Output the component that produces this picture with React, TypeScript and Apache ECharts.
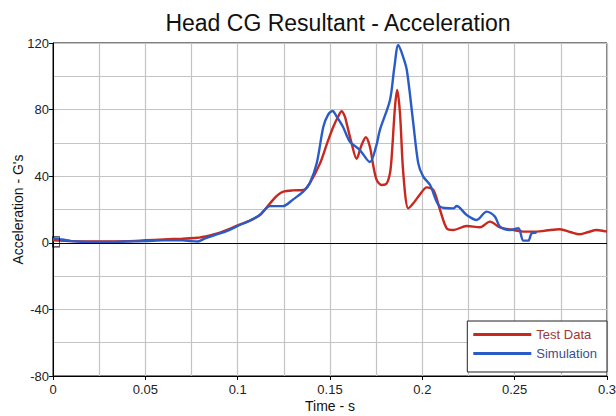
import React, { useEffect, useRef } from "react";
import * as echarts from "echarts";

const titleText = "Head CG Resultant - Acceleration";
const xAxisName = "Time - s";
const yAxisName = "Acceleration - G's";
const seriesNames = ["Test Data", "Simulation"];

// Test Data (red): time (s), acceleration (G)
const testTime = [
  0, 0.01, 0.02, 0.03, 0.04, 0.05, 0.06, 0.07, 0.078, 0.085, 0.09, 0.095, 0.1, 0.106, 0.112,
  0.1175, 0.1215, 0.1247, 0.13, 0.1355, 0.139, 0.1446, 0.1485, 0.1518, 0.1545, 0.1563, 0.158,
  0.159, 0.1617, 0.1644, 0.1671, 0.1694, 0.1716, 0.1735, 0.1753, 0.178, 0.1807, 0.1825, 0.1834,
  0.1852, 0.1864, 0.1879, 0.1897, 0.1924, 0.1951, 0.199, 0.2024, 0.206, 0.2096, 0.2132, 0.2168,
  0.224, 0.2312, 0.2366, 0.242, 0.2493, 0.2547, 0.2619, 0.268, 0.2745, 0.28, 0.2853, 0.29,
  0.2944, 0.3,
];
const testValues = [
  1.5, 1.0, 0.8, 0.8, 1.0, 1.5, 2.0, 2.5, 3.0, 4.5, 6.0, 8.0, 10.5, 13, 16.7,
  23.7, 28.5, 30.7, 31.5, 31.7, 35.7, 47.7, 60, 69.7, 76, 79, 76,
  71.8, 59.8, 50.5, 58.7, 63.4, 57.7, 46, 37.7, 34.7, 35.7, 42, 51.7,
  81.7, 91.8, 77.8, 41.7, 20.7, 23.7, 29.5, 33.3, 31.7, 19.7, 8.7, 7.7,
  10.1, 9.3, 12.7, 9.3, 7.7, 6.7, 6.7, 7.5, 8.1, 6.5, 5.1, 6.5,
  7.7, 6.7,
];

// Simulation (blue): time (s), acceleration (G)
const simTime = [
  0, 0.005, 0.01, 0.02, 0.03, 0.04, 0.05, 0.06, 0.07, 0.075, 0.0785, 0.082, 0.09, 0.095, 0.1012,
  0.106, 0.112, 0.1175, 0.1245, 0.13, 0.1355, 0.139, 0.1428, 0.1464, 0.149, 0.1514, 0.1535,
  0.157, 0.1608, 0.1662, 0.1716, 0.175, 0.177, 0.1825, 0.1848, 0.187, 0.1895, 0.1916, 0.1951,
  0.1978, 0.2005, 0.2042, 0.2096, 0.2168, 0.2186, 0.224, 0.2294, 0.2348, 0.2393, 0.242, 0.2475,
  0.252, 0.2547, 0.2574, 0.2592, 0.2619,
];
const simValues = [
  2.5, 2.0, 1.0, 0.5, 0.5, 0.8, 1.0, 1.5, 1.5, 1.0, 0.8, 2.5, 5.5, 7.5, 10.7,
  13, 16.7, 22, 22, 26, 30.7, 35.7, 47.7, 69.7, 77, 79.2, 76,
  69.7, 60.7, 55.7, 48.5, 58, 67.7, 85.8, 105, 118.8, 112, 103.8, 71.8,
  47.7, 39.7, 34.7, 21.7, 20.7, 22.1, 16.7, 13.7, 18.7, 15.7, 9.7, 7.7,
  8.7, 1.3, 1.3, 5.7, 6.1,
];

const originMarker = [[0.0016, 0.5]];

const font = "'Liberation Sans', Arial, sans-serif";

export default function App() {
  const ref = useRef<HTMLDivElement>(null);
  useEffect(() => {
    if (!ref.current) return;
    const chart = echarts.init(ref.current, undefined, { renderer: "svg" });
    const gridLine = { show: true, lineStyle: { color: "#c4c4c4", width: 1.2 } };
    chart.setOption({
      animation: false,
      backgroundColor: "#ffffff",
      textStyle: { fontFamily: font },
      title: {
        text: titleText,
        left: 333,
        textAlign: "center",
        top: 6,
        textStyle: { fontSize: 23, fontWeight: "normal", color: "#111", fontFamily: font },
      },
      grid: {
        left: 53,
        right: 9,
        top: 43,
        bottom: 40,
        outerBoundsMode: "none",
        containLabel: false,
        show: true,
        borderColor: "#000",
        borderWidth: 1,
        backgroundColor: "transparent",
      },
      legend: {
        right: 9,
        bottom: 44,
        orient: "vertical",
        icon: "rect",
        itemWidth: 58,
        itemHeight: 3,
        itemGap: 6,
        padding: [7, 10, 12, 6],
        backgroundColor: "#fff",
        borderColor: "#222",
        borderWidth: 1,
        data: [
          { name: seriesNames[0], textStyle: { color: "#9c3a36" } },
          { name: seriesNames[1], textStyle: { color: "#3a4f8a" } },
        ],
        textStyle: { fontSize: 13, fontFamily: font },
      },
      xAxis: {
        type: "value",
        min: 0,
        max: 0.3,
        interval: 0.05,
        name: xAxisName,
        nameLocation: "middle",
        nameGap: 23,
        nameMoveOverlap: false,
        nameTextStyle: { fontSize: 14, color: "#111", fontFamily: font },
        axisLine: { onZero: false, lineStyle: { color: "#000", width: 1 } },
        axisTick: { show: true, inside: false, length: 4, lineStyle: { color: "#000" } },
        axisLabel: {
          fontSize: 13,
          color: "#222",
          margin: 7,
          formatter: (v: number) => String(Math.round(v * 1000) / 1000),
        },
        splitLine: gridLine,
        minorTick: { show: false, splitNumber: 2 },
        minorSplitLine: gridLine,
      },
      yAxis: {
        type: "value",
        min: -80,
        max: 120,
        interval: 40,
        name: yAxisName,
        nameLocation: "middle",
        nameGap: 28,
        nameMoveOverlap: false,
        nameTextStyle: { fontSize: 14, color: "#111", fontFamily: font },
        axisLine: { show: true, lineStyle: { color: "#000", width: 1 } },
        axisTick: { show: true, inside: false, length: 4, lineStyle: { color: "#000" } },
        axisLabel: { fontSize: 13, color: "#222", margin: 4 },
        splitLine: gridLine,
        minorTick: { show: false, splitNumber: 2 },
        minorSplitLine: gridLine,
      },
      series: [
        {
          name: seriesNames[0],
          type: "line",
          data: testTime.map((t, i) => [t, testValues[i]]),
          showSymbol: false,
          smooth: 0.3,
          lineStyle: { color: "#c8281e", width: 2.4 },
          itemStyle: { color: "#c8281e" },
          z: 3,
          markLine: {
            silent: true,
            symbol: "none",
            label: { show: false },
            lineStyle: { color: "#000", width: 1, type: "solid" },
            data: [{ yAxis: 0 }],
          },
        },
        {
          name: seriesNames[1],
          type: "line",
          data: simTime.map((t, i) => [t, simValues[i]]),
          showSymbol: false,
          smooth: 0.3,
          lineStyle: { color: "#2a5cc8", width: 2.4 },
          itemStyle: { color: "#2a5cc8" },
          z: 4,
        },
        {
          name: "origin",
          type: "scatter",
          data: originMarker,
          symbol: "rect",
          symbolSize: [7, 10],
          silent: true,
          itemStyle: { color: "rgba(0,0,0,0)", borderColor: "#000", borderWidth: 1 },
          z: 5,
        },
      ],
    });
    return () => chart.dispose();
  }, []);
  return (
    <div
      ref={ref}
      style={{ position: "fixed", left: 0, top: 0, width: 616, height: 416 }}
    />
  );
}
